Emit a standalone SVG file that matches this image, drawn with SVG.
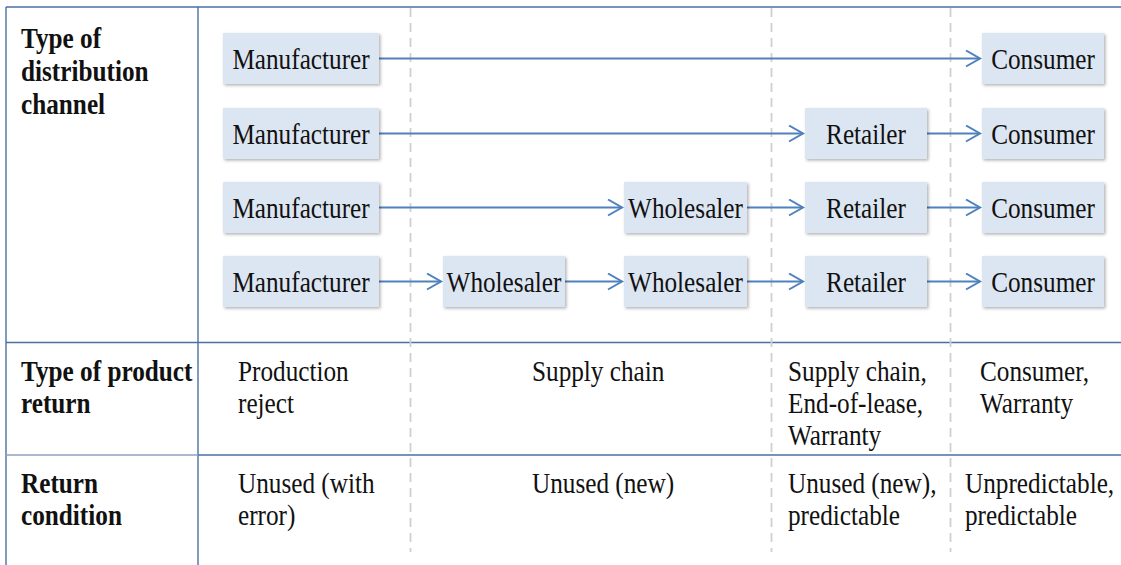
<svg xmlns="http://www.w3.org/2000/svg" width="1121" height="565" viewBox="0 0 1121 565">
  <style>
    .frame { stroke: #4a6fa5; stroke-width: 1.4; fill: none; }
    .frame-soft { stroke: #8ea2c1; stroke-width: 1.4; fill: none; }
    .guide { stroke: #cfcfcf; stroke-width: 1.8; stroke-dasharray: 9 6; fill: none; }
    .box { fill: #dce6f2; filter: url(#shadow); }
    .lbl { font-family: "Liberation Serif", "Times New Roman", serif; font-size: 29px; fill: #111; }
    .head { font-family: "Liberation Serif", "Times New Roman", serif; font-size: 29px; font-weight: bold; fill: #111; }
    .mid { text-anchor: middle; }
    .flow { stroke: #4f81bd; stroke-width: 2; fill: none; marker-end: url(#chev); }
  </style>
  <defs>
    <filter id="shadow" x="-10%" y="-20%" width="125%" height="150%">
      <feDropShadow dx="1.5" dy="1.5" stdDeviation="1.5" flood-color="#000" flood-opacity="0.3"/>
    </filter>
    <marker id="chev" markerUnits="userSpaceOnUse" markerWidth="18" markerHeight="20" refX="15" refY="9" orient="auto">
      <path d="M1,1 L15,9 L1,17" fill="none" stroke="#4f81bd" stroke-width="2"/>
    </marker>
  </defs>

  <rect width="1121" height="565" fill="#ffffff"/>

  <!-- table grid -->
  <g id="grid">
    <line class="frame" x1="6" y1="7" x2="1121" y2="7"/>
    <line class="frame" x1="6" y1="7" x2="6" y2="565"/>
    <line class="frame" x1="198" y1="7" x2="198" y2="565"/>
    <line class="frame" x1="6" y1="342.5" x2="1121" y2="342.5"/>
    <line class="frame-soft" x1="6" y1="455" x2="198" y2="455"/>
    <line class="frame" x1="198" y1="455" x2="1121" y2="455"/>
    <line class="guide" x1="410.5" y1="8" x2="410.5" y2="552"/>
    <line class="guide" x1="771.5" y1="8" x2="771.5" y2="552"/>
    <line class="guide" x1="950.5" y1="8" x2="950.5" y2="552"/>
  </g>

  <!-- row headings -->
  <g id="headings">
    <text class="head" transform="translate(21,48) scale(0.87,1)"><tspan x="0" y="0">Type of</tspan><tspan x="0" y="33">distribution</tspan><tspan x="0" y="66">channel</tspan></text>
    <text class="head" transform="translate(21,381) scale(0.87,1)"><tspan x="0" y="0">Type of product</tspan><tspan x="0" y="32">return</tspan></text>
    <text class="head" transform="translate(21,493) scale(0.87,1)"><tspan x="0" y="0">Return</tspan><tspan x="0" y="32">condition</tspan></text>
  </g>

  <!-- connectors -->
  <g id="connectors">
    <path class="flow" d="M379,58.5 H980"/>
    <path class="flow" d="M379,133.5 H803"/>
    <path class="flow" d="M927,133.5 H980"/>
    <path class="flow" d="M379,207.5 H622"/>
    <path class="flow" d="M747,207.5 H803"/>
    <path class="flow" d="M927,207.5 H980"/>
    <path class="flow" d="M379,281.5 H441"/>
    <path class="flow" d="M565,281.5 H622"/>
    <path class="flow" d="M747,281.5 H803"/>
    <path class="flow" d="M927,281.5 H980"/>
  </g>

  <!-- row 1 -->
  <g id="manufacturer-1"><rect class="box" x="223" y="33" width="156" height="51"/><text class="lbl mid" transform="translate(301,68.5) scale(0.87,1)">Manufacturer</text></g>
  <g id="consumer-1"><rect class="box" x="982" y="33" width="122" height="51"/><text class="lbl mid" transform="translate(1043,68.5) scale(0.87,1)">Consumer</text></g>

  <!-- row 2 -->
  <g id="manufacturer-2"><rect class="box" x="223" y="108" width="156" height="51"/><text class="lbl mid" transform="translate(301,143.5) scale(0.87,1)">Manufacturer</text></g>
  <g id="retailer-2"><rect class="box" x="805" y="108" width="122" height="51"/><text class="lbl mid" transform="translate(866,143.5) scale(0.87,1)">Retailer</text></g>
  <g id="consumer-2"><rect class="box" x="982" y="108" width="122" height="51"/><text class="lbl mid" transform="translate(1043,143.5) scale(0.87,1)">Consumer</text></g>

  <!-- row 3 -->
  <g id="manufacturer-3"><rect class="box" x="223" y="182" width="156" height="51"/><text class="lbl mid" transform="translate(301,217.5) scale(0.87,1)">Manufacturer</text></g>
  <g id="wholesaler-3"><rect class="box" x="624" y="182" width="123" height="51"/><text class="lbl mid" transform="translate(685.5,217.5) scale(0.87,1)">Wholesaler</text></g>
  <g id="retailer-3"><rect class="box" x="805" y="182" width="122" height="51"/><text class="lbl mid" transform="translate(866,217.5) scale(0.87,1)">Retailer</text></g>
  <g id="consumer-3"><rect class="box" x="982" y="182" width="122" height="51"/><text class="lbl mid" transform="translate(1043,217.5) scale(0.87,1)">Consumer</text></g>

  <!-- row 4 -->
  <g id="manufacturer-4"><rect class="box" x="223" y="256" width="156" height="51"/><text class="lbl mid" transform="translate(301,291.5) scale(0.87,1)">Manufacturer</text></g>
  <g id="wholesaler-4a"><rect class="box" x="443" y="256" width="122" height="51"/><text class="lbl mid" transform="translate(504,291.5) scale(0.87,1)">Wholesaler</text></g>
  <g id="wholesaler-4b"><rect class="box" x="624" y="256" width="123" height="51"/><text class="lbl mid" transform="translate(685.5,291.5) scale(0.87,1)">Wholesaler</text></g>
  <g id="retailer-4"><rect class="box" x="805" y="256" width="122" height="51"/><text class="lbl mid" transform="translate(866,291.5) scale(0.87,1)">Retailer</text></g>
  <g id="consumer-4"><rect class="box" x="982" y="256" width="122" height="51"/><text class="lbl mid" transform="translate(1043,291.5) scale(0.87,1)">Consumer</text></g>

  <!-- return types -->
  <g id="return-types">
    <text class="lbl" transform="translate(238,381) scale(0.87,1)"><tspan x="0" y="0">Production</tspan><tspan x="0" y="32">reject</tspan></text>
    <text class="lbl" transform="translate(532,381) scale(0.87,1)">Supply chain</text>
    <text class="lbl" transform="translate(788,381) scale(0.87,1)"><tspan x="0" y="0">Supply chain,</tspan><tspan x="0" y="32">End-of-lease,</tspan><tspan x="0" y="64">Warranty</tspan></text>
    <text class="lbl" transform="translate(980,381) scale(0.87,1)"><tspan x="0" y="0">Consumer,</tspan><tspan x="0" y="32">Warranty</tspan></text>
  </g>

  <!-- return conditions -->
  <g id="return-conditions">
    <text class="lbl" transform="translate(238,493) scale(0.87,1)"><tspan x="0" y="0">Unused (with</tspan><tspan x="0" y="32">error)</tspan></text>
    <text class="lbl" transform="translate(532,493) scale(0.87,1)">Unused (new)</text>
    <text class="lbl" transform="translate(788,493) scale(0.87,1)"><tspan x="0" y="0">Unused (new),</tspan><tspan x="0" y="32">predictable</tspan></text>
    <text class="lbl" transform="translate(965,493) scale(0.87,1)"><tspan x="0" y="0">Unpredictable,</tspan><tspan x="0" y="32">predictable</tspan></text>
  </g>
</svg>
